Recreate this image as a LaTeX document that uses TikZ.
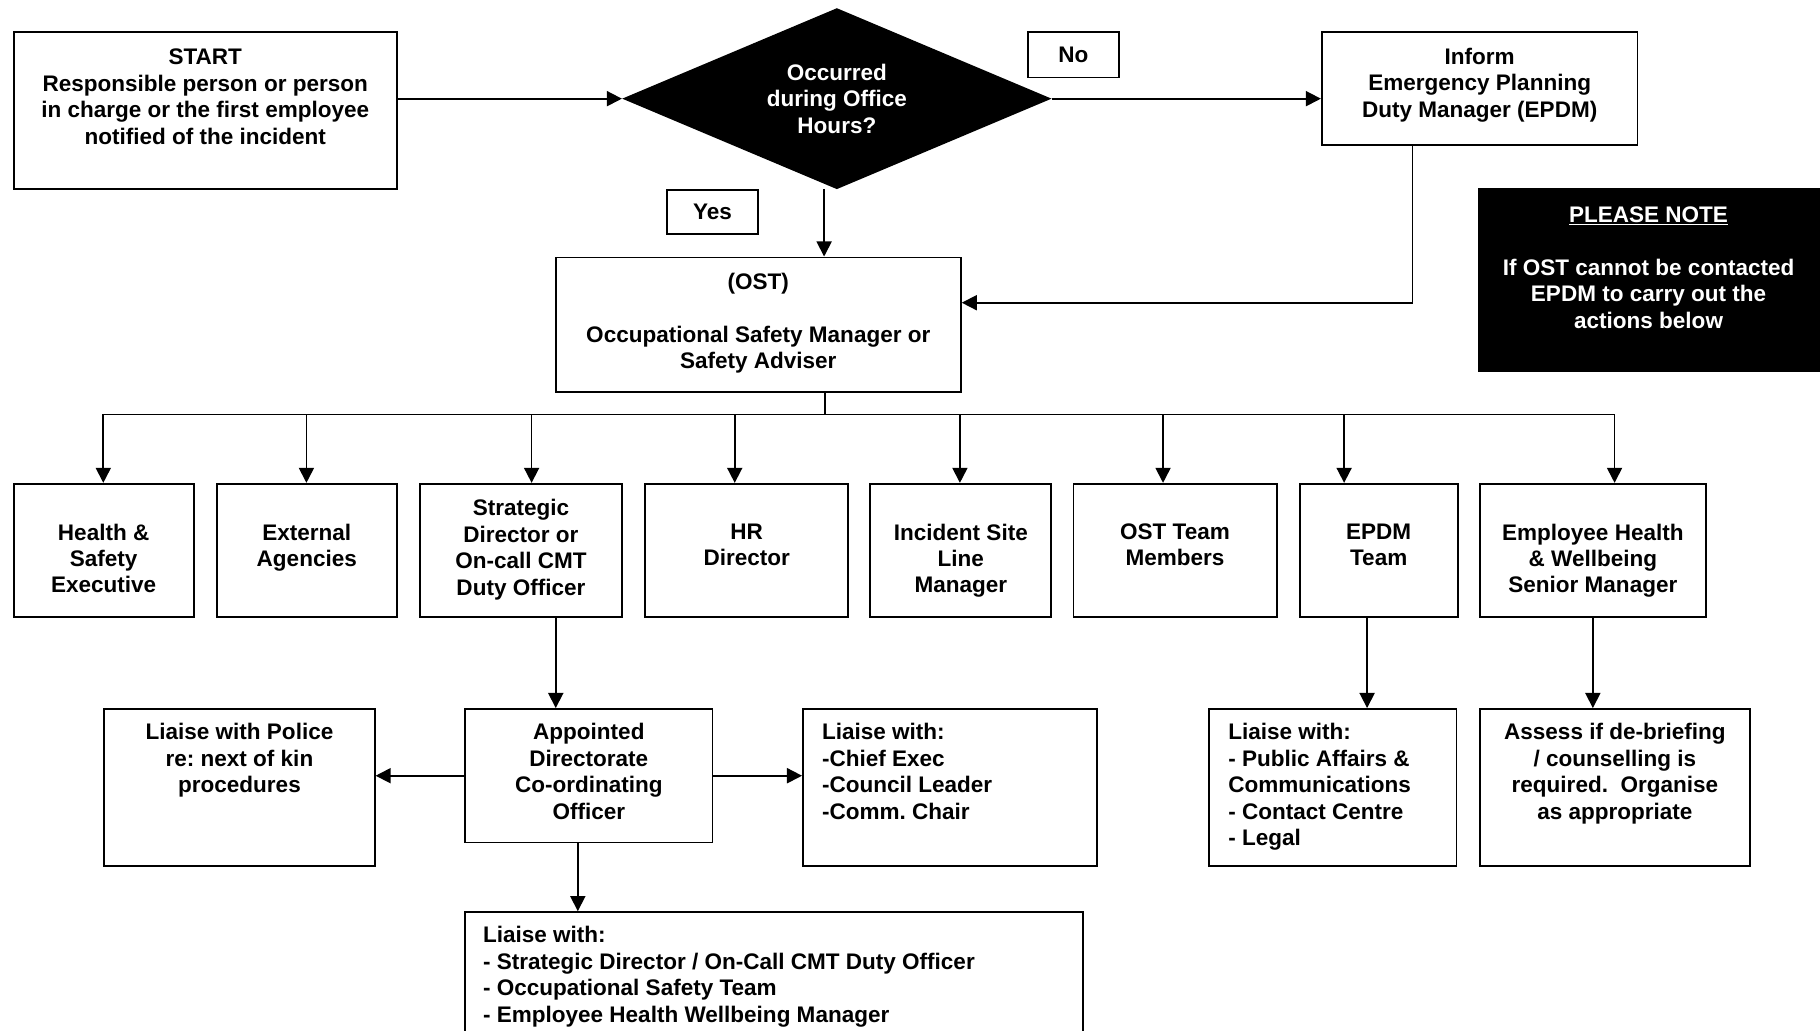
\documentclass[tikz,border=0pt]{standalone}
\usepackage{fontspec}
\setmainfont{Liberation Sans}
\usepackage{tikz}
\usetikzlibrary{shapes.geometric}
\usetikzlibrary{arrows.meta}

\frenchspacing
\newcommand{\chartfont}{\fontsize{19.4pt}{22.8pt}\selectfont\bfseries}

\begin{document}
\begin{tikzpicture}[x=1pt,y=-1pt,
    box/.style={draw, line width=1.6pt, anchor=north west, inner sep=0pt, font=\chartfont},
    lbl/.style={anchor=north, align=center, inner sep=0pt, font=\chartfont},
    lbll/.style={anchor=north west, align=left, inner sep=0pt, font=\chartfont},
    wh/.style 2 args={minimum width=#1, minimum height=#2},
    arr/.style={line width=1.5pt, -{Triangle[length=13pt,width=13pt]}},
    line/.style={line width=1.5pt}]
        \useasboundingbox (0,0) rectangle (1568,888);

        % top row
        \node[box, wh={330}{135}, label={[lbl,yshift=-15]north:{START\\Responsible person or person\\in charge or the first employee\\notified of the incident}}] (start) at (11,27) {};
        \node[diamond, fill=black, text=white, minimum width=370, minimum height=156, aspect=2.37, inner sep=0pt, align=center, font=\chartfont] (dec) at (721,85) {Occurred\\during Office\\Hours?};
        \node[box, wh={78}{39}] (no) at (885,27) {No};
        \node[box, wh={78}{38}] (yes) at (574,163) {Yes};
        \node[box, wh={272}{97}, label={[lbl,yshift=-14]north:{Inform\\Emergency Planning\\Duty Manager (EPDM)}}] (epdm) at (1138,27) {};
        \node[box, wh={349}{116}, label={[lbl,yshift=-14]north:{(OST)\\[22.8pt]Occupational Safety Manager or\\Safety Adviser}}] (ost) at (478,221) {};
        \node[box, fill=black, wh={293}{157}, label={[lbl,text=white,yshift=-16]north:{\underline{PLEASE NOTE}\\[22.8pt]If OST cannot be contacted\\EPDM to carry out the\\actions below}}] (note) at (1273,162) {};

        % second row
        \node[box, wh={155}{115}, label={[lbl,yshift=-35]north:{Health \&\\Safety\\Executive}}] (hse) at (11,416) {};
        \node[box, wh={155}{115}, label={[lbl,yshift=-35]north:{External\\Agencies}}] (ext) at (186,416) {};
        \node[box, wh={174}{115}, label={[lbl,yshift=-14]north:{Strategic\\Director or\\On-call CMT\\Duty Officer}}] (sdir) at (361,416) {};
        \node[box, wh={175}{115}, label={[lbl,yshift=-35]north:{HR\\Director}}] (hr) at (555,416) {};
        \node[box, wh={156}{115}, label={[lbl,yshift=-35]north:{Incident Site\\Line\\Manager}}] (isl) at (749,416) {};
        \node[box, wh={175}{115}, label={[lbl,yshift=-35]north:{OST Team\\Members}}] (ostm) at (924,416) {};
        \node[box, wh={136}{115}, label={[lbl,yshift=-35]north:{EPDM\\Team}}] (epdmt) at (1119,416) {};
        \node[box, wh={195}{115}, label={[lbl,yshift=-35]north:{Employee Health\\\& Wellbeing\\Senior Manager}}] (ehw) at (1274,416) {};

        % third row
        \node[box, wh={233}{135}, label={[lbl,yshift=-13]north:{Liaise with Police\\re: next of kin\\procedures}}] (police) at (89,610) {};
        \node[box, wh={213}{115}, label={[lbl,yshift=-13]north:{Appointed\\Directorate\\Co-ordinating\\Officer}}] (adco) at (400,610) {};
        \node[box, wh={253}{135}, label={[lbll,xshift=17,yshift=-13]north west:{Liaise with:\\-Chief Exec\\-Council Leader\\-Comm. Chair}}] (chief) at (691,610) {};
        \node[box, wh={213}{135}, label={[lbll,xshift=17,yshift=-13]north west:{Liaise with:\\- Public Affairs \&\\Communications\\- Contact Centre\\- Legal}}] (pubaff) at (1041,610) {};
        \node[box, wh={233}{135}, label={[lbl,yshift=-13]north:{Assess if de-briefing\\/ counselling is\\required.\ \ Organise\\as appropriate}}] (assess) at (1274,610) {};
        \node[box, wh={532}{125}, label={[lbll,xshift=16,yshift=-13]north west:{Liaise with:\\- Strategic Director / On-Call CMT Duty Officer\\- Occupational Safety Team\\- Employee Health Wellbeing Manager}}] (bottom) at (400,785) {};

        % connectors
        \draw[arr] (start.east |- dec.west) -- (dec.west);
        \draw[arr] (dec.east) -- (dec.east -| epdm.west);
        \draw[arr] ([xshift=-11]dec.south) -- ([xshift=-11]dec.south |- ost.north);
        \draw[arr] ([xshift=-58]epdm.south) |- ([yshift=19]ost.east);

        \coordinate (bus) at (0,357);
        \draw[line] ([xshift=57.5]ost.south) -- ([xshift=57.5]ost.south |- bus);
        \draw[line] ([xshift=89]bus) -- ([xshift=1391]bus);
        \foreach \n/\x in {hse/89, ext/264, sdir/458, hr/633, isl/827, ostm/1002, epdmt/1158, ehw/1391}
            \draw[arr] ([xshift=\x]bus) -- ([xshift=\x]bus |- \n.north);

        \draw[arr] ([xshift=30]sdir.south) -- ([xshift=30]sdir.south |- adco.north);
        \draw[arr] (adco.west) -- (adco.west -| police.east);
        \draw[arr] (adco.east) -- (adco.east -| chief.west);
        \draw[arr] ([xshift=-9.5]adco.south) -- ([xshift=-9.5]adco.south |- bottom.north);
        \draw[arr] ([xshift=-10]epdmt.south) -- ([xshift=-10]epdmt.south |- pubaff.north);
        \draw[arr] (ehw.south) -- (ehw.south |- assess.north);
\end{tikzpicture}
\end{document}
